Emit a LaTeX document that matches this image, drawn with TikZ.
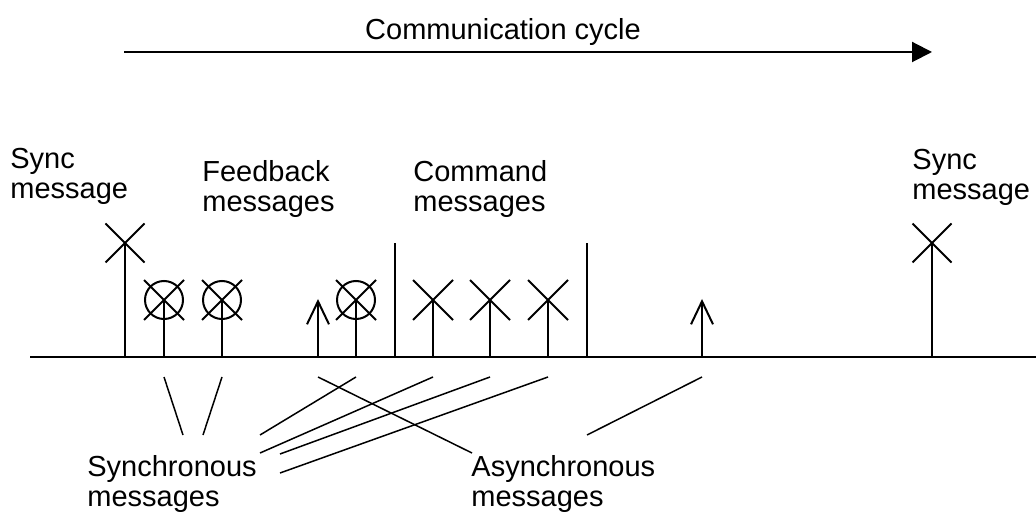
\documentclass[tikz,border=0pt]{standalone}
\usepackage{fontspec}
\setmainfont{Liberation Sans}
\usetikzlibrary{arrows.meta}

\begin{document}
\begin{tikzpicture}[x=0.5pt, y=-0.5pt, >=Stealth,
    every node/.style={font=\fontsize{14.5}{15}\selectfont, inner sep=0pt, align=left},
    line/.style={line width=1pt},
    callout/.style={line width=0.75pt},
    asyncarrow/.style={line width=1pt, -{Straight Barb[length=11.5pt, width=11pt, line width=1pt]}}]
  \useasboundingbox (0,0) rectangle (1036,512);

  % Kommunikationszyklus
  \node[anchor=base] (title) at (503,40) {Communication cycle};
  \coordinate (cycstart) at (124,52);
  \coordinate (cycend) at (932,52);
  \draw[line, -{Triangle[length=10pt, width=10pt]}] (cycstart) -- (cycend);

  % Zeitachse
  \coordinate (axl) at (30,357);
  \coordinate (axr) at (1036,357);
  \draw[line] (axl) -- (axr);

  % Sync-Nachrichten
  \foreach \name/\x in {syncA/125, syncB/932} {
    \coordinate (\name) at (\x,357);
    \draw[line] (\name) -- ++(0,-114) coordinate (\name top);
    \draw[line] (\name top) ++(-19.5,-19.5) -- ++(39,39) ++(-39,0) -- ++(39,-39);
  }

  % Feedback-Nachrichten (synchron)
  \foreach \name/\x in {fbA/164, fbB/222, fbC/356} {
    \coordinate (\name) at (\x,357);
    \draw[line] (\name) -- ++(0,-57) coordinate (\name top);
    \draw[line] (\name top) circle (19);
    \draw[line] (\name top) ++(-20,-20) -- ++(40,40) ++(-40,0) -- ++(40,-40);
  }

  % Command-Nachrichten (synchron)
  \foreach \name/\x in {cmdA/433, cmdB/490, cmdC/548} {
    \coordinate (\name) at (\x,357);
    \draw[line] (\name) -- ++(0,-57) coordinate (\name top);
    \draw[line] (\name top) ++(-20,-20) -- ++(40,40) ++(-40,0) -- ++(40,-40);
  }

  % asynchrone Nachrichten
  \foreach \name/\x in {asyA/318, asyB/702} {
    \coordinate (\name) at (\x,357);
    \draw[asyncarrow] (\name) -- ++(0,-58);
  }

  % Trennlinien
  \foreach \name/\x in {sepA/395, sepB/587} {
    \coordinate (\name) at (\x,357);
    \draw[line] (\name) -- ++(0,-114);
  }

  % Beschriftungen
  \node[anchor=north west] (synclblA) at (10,148) {Sync\\message};
  \node[anchor=north west] (fblbl) at (202,160) {Feedback\\messages};
  \node[anchor=north west] (cmdlbl) at (413,160) {Command\\messages};
  \node[anchor=north west] (synclblB) at (912,149) {Sync\\message};
  \node[anchor=north west] (synmsglbl) at (87,455) {Synchronous\\messages};
  \node[anchor=north west] (asynmsglbl) at (471,455) {Asynchronous\\messages};

  % Zuordnungslinien
  \coordinate (sa) at (183,435);
  \coordinate (sb) at (203,435);
  \coordinate (sc) at (260,435);
  \coordinate (sd) at (260,453);
  \coordinate (se) at (280,454);
  \coordinate (sf) at (280,473);
  \coordinate (aa) at (472,453);
  \coordinate (ab) at (587,435);
  \draw[callout] ([yshift=-10pt]fbA) -- (sa);
  \draw[callout] ([yshift=-10pt]fbB) -- (sb);
  \draw[callout] ([yshift=-10pt]fbC) -- (sc);
  \draw[callout] ([yshift=-10pt]cmdA) -- (sd);
  \draw[callout] ([yshift=-10pt]cmdB) -- (se);
  \draw[callout] ([yshift=-10pt]cmdC) -- (sf);
  \draw[callout] ([yshift=-10pt]asyA) -- (aa);
  \draw[callout] ([yshift=-10pt]asyB) -- (ab);
\end{tikzpicture}
\end{document}
